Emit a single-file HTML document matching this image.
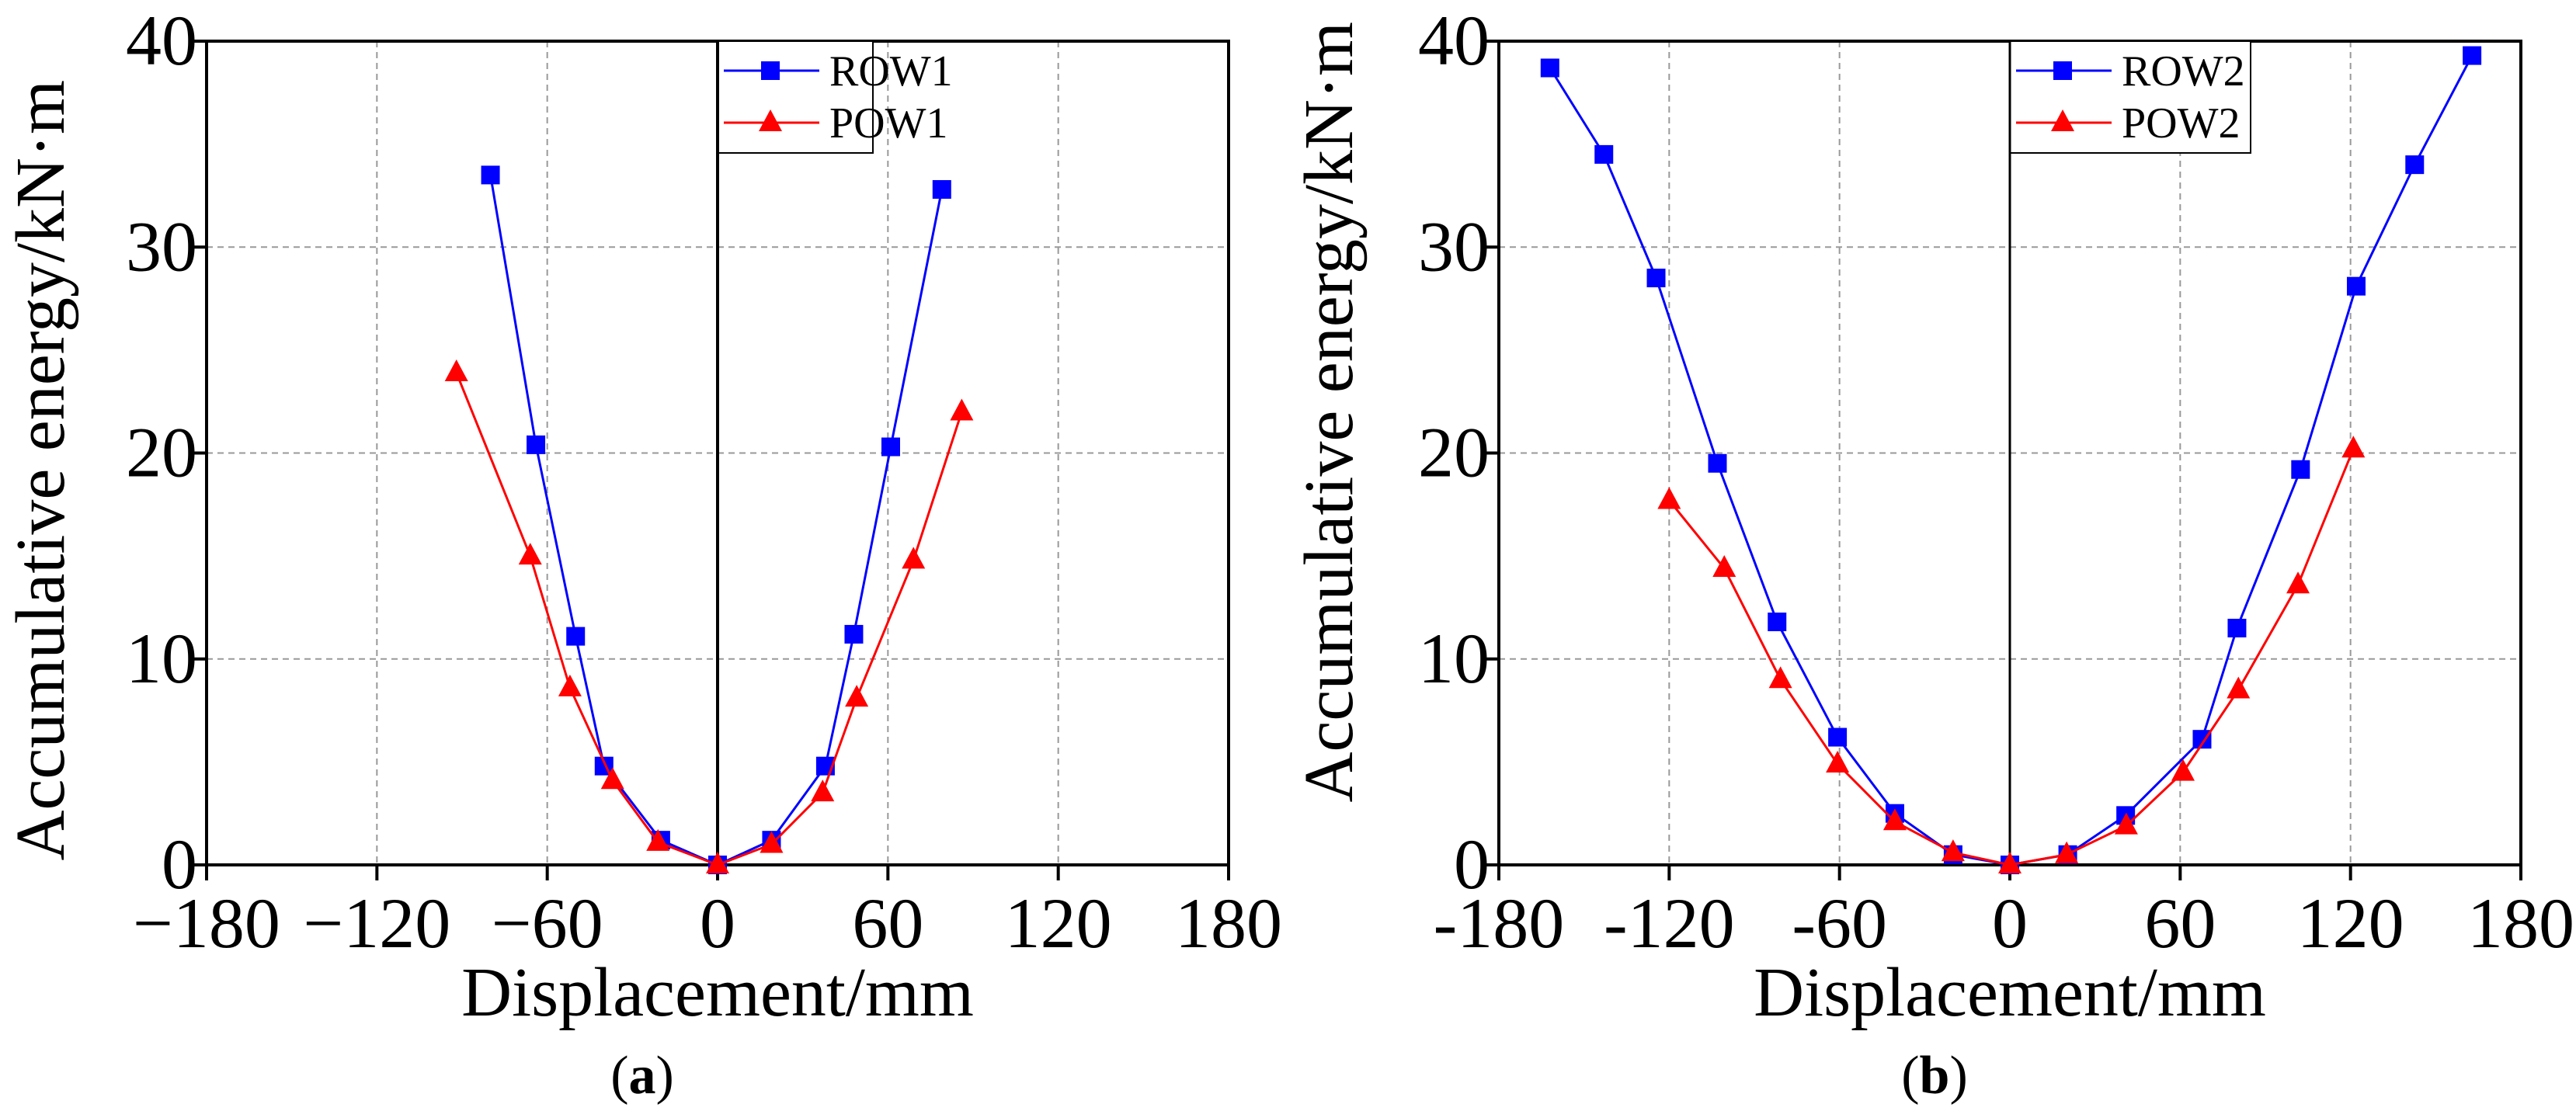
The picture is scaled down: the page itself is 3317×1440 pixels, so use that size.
<!DOCTYPE html>
<html><head><meta charset="utf-8"><style>
html,body{margin:0;padding:0;background:#fff}
svg{display:block}
svg text{font-family:"Liberation Serif","DejaVu Serif","Times New Roman",serif;fill:#000}
</style></head><body>
<svg id="chart" width="3317" height="1440" xmlns="http://www.w3.org/2000/svg" font-family="Liberation Serif, DejaVu Serif, serif"></svg>
<script>
const xTicks = [-180,-120,-60,0,60,120,180];
const yTicks = [0,10,20,30,40];
const xTickLabelsA = ["\u2212180","\u2212120","\u221260","0","60","120","180"];
const xTickLabelsB = ["-180","-120","-60","0","60","120","180"];
const row1X = [-80,-64,-50,-40,-20,0,19,38,48,61,79];
const row1Y = [33.5,20.4,11.1,4.8,1.2,0,1.2,4.8,11.2,20.3,32.8];
const pow1X = [-92,-66,-52,-37,-21,0,19,37,49,69,86];
const pow1Y = [23.9,15.0,8.6,4.1,1.1,0,1.0,3.5,8.1,14.8,22.0];
const row2X = [-162,-143,-124.6,-103,-82,-60.7,-40.5,-20,0,20.4,40.8,67.7,80,102.4,122,142.6,162.8];
const row2Y = [38.7,34.5,28.5,19.5,11.8,6.2,2.5,0.5,0,0.5,2.4,6.1,11.5,19.2,28.1,34.0,39.3];
const pow2X = [-120,-100.6,-80.8,-60.7,-40.5,-20,0,20,41,61,80.5,101.5,121];
const pow2Y = [17.7,14.4,9.0,4.9,2.1,0.6,0,0.5,1.9,4.5,8.5,13.6,20.2];

const NS = "http://www.w3.org/2000/svg";
const svg = document.getElementById('chart');
function mk(tag, attrs, parent){
  const e = document.createElementNS(NS, tag);
  for (const k in attrs) e.setAttribute(k, attrs[k]);
  (parent||svg).appendChild(e);
  return e;
}

function panel(cfg){
  const g = mk('g', {});
  
  
  const L = cfg.left, R = cfg.left + 1316, T = 53, B = 1114;
  const xs = v => L + (v + 180) / 360 * (R - L);
  const ys = v => B - v / 40 * (B - T);
  xTicks.forEach(t => {
    if (t === -180 || t === 180 || t === 0) return;
    const l = mk('line', {x1:xs(t), x2:xs(t), y1:T, y2:B, stroke:'#999', 'stroke-width':2, 'stroke-dasharray':'8,6'}, g);
    
    
  });
  yTicks.forEach(t => {
    if (t === 0 || t === 40) return;
    const l = mk('line', {x1:L, x2:R, y1:ys(t), y2:ys(t), stroke:'#999', 'stroke-width':2, 'stroke-dasharray':'8,6'}, g);
    
    
  });
  const z = mk('line', {x1:xs(0), x2:xs(0), y1:T, y2:B, stroke:'#000', 'stroke-width':cfg.zeroW}, g);
  
  
  const f = mk('rect', {x:L, y:T, width:R-L, height:B-T, fill:'none', stroke:'#000', 'stroke-width':4}, g);
  
  
  xTicks.forEach((t, i) => {
    mk('line', {x1:xs(t), x2:xs(t), y1:B, y2:B+20, stroke:'#000', 'stroke-width':4}, g);
    const tx = mk('text', {x:xs(t), y:1220, 'font-size':92, 'text-anchor':'middle'}, g);
    tx.textContent = cfg.xLabels[i];
    
    
  });
  yTicks.forEach(t => {
    mk('line', {x1:L-20, x2:L, y1:ys(t), y2:ys(t), stroke:'#000', 'stroke-width':4}, g);
    const tx = mk('text', {x:L-12, y:ys(t)+30, 'font-size':92, 'text-anchor':'end'}, g);
    tx.textContent = String(t);
    
    
  });
  function series(X, Y, color, marker, nm){
    const pts = X.map((x, i) => xs(x) + ',' + ys(Y[i])).join(' ');
    const pl = mk('polyline', {points:pts, fill:'none', stroke:color, 'stroke-width':3}, g);
    
    
    X.forEach((x, i) => {
      const cx = xs(x), cy = ys(Y[i]);
      let m;
      if (marker === 'sq') m = mk('rect', {x:cx-12, y:cy-12, width:24, height:24, fill:color}, g);
      else m = mk('polygon', {points:(cx)+','+(cy-17)+' '+(cx-15)+','+(cy+11)+' '+(cx+15)+','+(cy+11), fill:color}, g);
      
      
    });
  }
  series(cfg.rX, cfg.rY, '#0000ff', 'sq', cfg.rName);
  series(cfg.pX, cfg.pY, '#ff0000', 'tri', cfg.pName);
  const lg = mk('g', {}, g);
  
  
  const lx = xs(0);
  mk('rect', {x:lx, y:T, width:cfg.legW, height:197-T, fill:'#fff', stroke:'#000', 'stroke-width':2}, lg);
  mk('line', {x1:lx, x2:lx, y1:T, y2:197, stroke:'#000', 'stroke-width':cfg.zeroW}, lg);
  [[cfg.rName.toUpperCase(), '#0000ff', 'sq', 91], [cfg.pName.toUpperCase(), '#ff0000', 'tri', 158]].forEach(([lab, col, mkr, yy]) => {
    const e = mk('g', {}, lg);
    
    
    mk('line', {x1:lx+8, x2:lx+131, y1:yy, y2:yy, stroke:col, 'stroke-width':3}, e);
    const mx = lx + 68;
    if (mkr === 'sq') mk('rect', {x:mx-12, y:yy-12, width:24, height:24, fill:col}, e);
    else mk('polygon', {points:mx+','+(yy-17)+' '+(mx-15)+','+(yy+11)+' '+(mx+15)+','+(yy+11), fill:col}, e);
    const t = mk('text', {x:lx+144, y:yy+19, 'font-size':56}, e);
    t.textContent = lab;
  });
  const xt = mk('text', {x:xs(0), y:1308, 'font-size':90, 'text-anchor':'middle'}, g);
  xt.textContent = 'Displacement/mm';
  
  
  const yt = mk('text', {x:0, y:0, 'font-size':90, 'text-anchor':'end', transform:'translate('+cfg.ytX+','+cfg.ytTop+') rotate(-90)'}, g);
  yt.textContent = 'Accumulative energy/kN\u00b7m';
  
  
  const cap = mk('text', {x:xs(0)-97, y:1408, 'font-size':70, 'text-anchor':'middle'}, g);
  cap.innerHTML = '(<tspan font-weight="bold">' + cfg.cap + '</tspan>)';
  
  
}

panel({name:'panel-a', left:266, xLabels:xTickLabelsA, rX:row1X, rY:row1Y, pX:pow1X, pY:pow1Y, rName:'row1', pName:'pow1', zeroW:4, legW:200, ytX:82, ytTop:103, cap:'a'});
panel({name:'panel-b', left:1930, xLabels:xTickLabelsB, rX:row2X, rY:row2Y, pX:pow2X, pY:pow2Y, rName:'row2', pName:'pow2', zeroW:3, legW:310, ytX:1741, ytTop:28, cap:'b'});
</script>
</body></html>
